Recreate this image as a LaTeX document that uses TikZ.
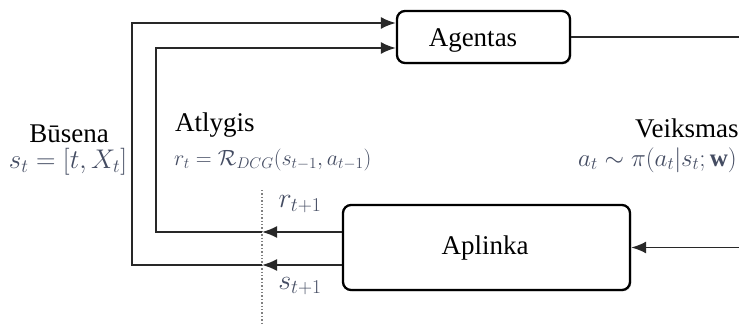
\RequirePackage{fix-cm}
\documentclass[tikz,border=0pt]{standalone}
\usepackage{fontspec}
\setmainfont{Liberation Serif}
\usetikzlibrary{arrows.meta,shadows}
\definecolor{mathc}{RGB}{68,76,98}
\definecolor{linec}{RGB}{40,40,40}

\begin{document}
\begin{tikzpicture}[x=1pt,y=-1pt,
  box/.style={draw=black, line width=2.3pt, rounded corners=8pt, fill=white,
    drop shadow={shadow xshift=1.3pt,shadow yshift=-1.3pt,opacity=0.35}},
  wire/.style={draw=linec, line width=1.8pt},
  tip/.style={-{Latex[length=15pt,width=12pt]}},
  lbl/.style={font=\fontsize{27}{30}\selectfont, inner sep=0pt},
  eq/.style={font=\fontsize{25}{28}\selectfont, text=mathc, inner sep=0pt}]
\useasboundingbox (0,0) rectangle (739,326);
\clip (0,0) rectangle (739,326);

% boxes
\node[box, minimum width=173pt, minimum height=52pt] (ag) at (483.5,37) {};
\node[lbl] (agt) at (473,41) {Agentas};
\node[box, minimum width=287pt, minimum height=85pt] (ap) at (486.5,247.5) {};
\node[lbl] (apt) at (485,248) {Aplinka};

% corner points of the feedback loops
\coordinate (rcut) at (262,232);
\coordinate (scut) at (262,265);
\coordinate (rcorner) at (156,232);
\coordinate (rtop) at (156,48);
\coordinate (scorner) at (132,265);
\coordinate (stop) at (132,23);
\coordinate (cuttop) at (262,190);
\coordinate (cutbot) at (262,330);
\coordinate (aout) at (745,37);
\coordinate (ain) at (745,247.5);

% time cut
\draw[gray, line width=1.4pt, dotted] (cuttop) -- (cutbot);

% reward loop
\draw[wire,tip] ([yshift=15.5pt]ap.west) -- (rcut);
\draw[wire,tip] (rcut) -- (rcorner) -- (rtop) -- ([yshift=-11pt]ag.west);
% state loop
\draw[wire,tip] ([yshift=-17.5pt]ap.west) -- (scut);
\draw[wire,tip] (scut) -- (scorner) -- (stop) -- ([yshift=14pt]ag.west);
% action
\draw[wire] (ag.east) -- (aout);
\draw[wire,tip] (ain) -- (ap.east);

% labels
\node[lbl] (busena) at (69,134) {Būsena};
\node[eq, font=\fontsize{27}{30}\selectfont] (seq) at (68,162) {$s_t=[t,X_t]$};
\node[lbl, anchor=west] (atl) at (175,125) {Atlygis};
\node[eq, font=\fontsize{22}{26}\selectfont, anchor=west] (req) at (174,160) {$r_t=\mathcal{R}_{DCG}(s_{t-1},a_{t-1})$};
\node[lbl, anchor=west] (veik) at (635,128) {Veiksmas};
\node[eq, anchor=west] (aeq) at (578,160) {$a_t\sim\pi(a_t|s_t;\mathbf{w})$};
\node[eq, font=\fontsize{28}{30}\selectfont] (r1) at (300,204) {$r_{t+1}$};
\node[eq, font=\fontsize{28}{30}\selectfont] (s1) at (300,286) {$s_{t+1}$};
\end{tikzpicture}
\end{document}
